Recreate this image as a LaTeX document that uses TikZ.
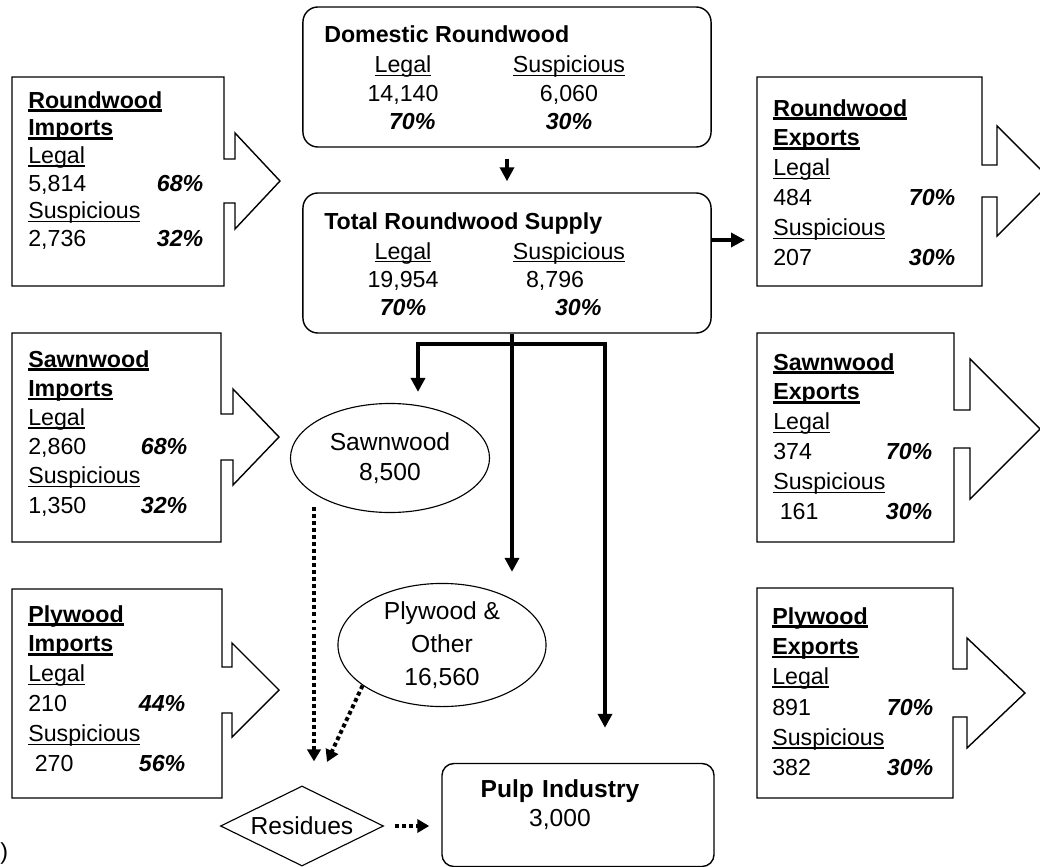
\documentclass[tikz,border=0pt]{standalone}
\usepackage{fontspec}
\setmainfont{Liberation Sans}
\usetikzlibrary{positioning, arrows.meta, shapes.geometric}

\newcommand{\fsz}[1]{\fontsize{16.5pt}{#1}\selectfont}
\newcommand{\fszl}[1]{\fontsize{17.5pt}{#1}\selectfont}
\newcommand{\pct}[1]{\textbf{\textit{#1\%}}}
% underline close to the baseline, as a word processor does
\newcommand{\uln}[1]{\leavevmode\setbox0\hbox{#1}\rlap{\rule[-0.15em]{\wd0}{0.075em}}\box0}
\newcommand{\ulb}[1]{\leavevmode\setbox0\hbox{\bfseries #1}\rlap{\rule[-0.17em]{\wd0}{0.11em}}\box0}
% box with an arrow on its right side:
% left, top, right, bottom, arrow y, stem half, head half, stem x, tip x
\newcommand{\callout}[9]{%
  \draw[outl] (#3,#2) -- (#1,#2) -- (#1,#4) -- (#3,#4) -- (#3,{#5+#6})
    -- (#8,{#5+#6}) -- (#8,{#5+#7}) -- (#9,#5) -- (#8,{#5-#7})
    -- (#8,{#5-#6}) -- (#3,{#5-#6}) -- cycle;}

\begin{document}
\begin{tikzpicture}[x=0.025cm, y=-0.025cm,
    outl/.style={line width=1pt},
    side/.style={inner sep=0pt, anchor=base west, align=left},
    rbox/.style={draw, line width=1pt, rounded corners=0.375cm,
                 minimum width=10.2cm, minimum height=3.5cm},
    col/.style={inner sep=0pt, anchor=base, align=center,
                text width=3.5cm, font=\fsz{20.2pt}},
    oval/.style={draw, ellipse, line width=0.8pt, inner sep=0pt, align=center},
    thk/.style={line width=3pt, -{Triangle[width=0.35cm, length=0.35cm]}},
    dots/.style={line width=2.8pt, dash pattern=on 2.8pt off 2.2pt,
                 -{Triangle[width=0.33cm, length=0.3cm]}}
  ]
    \useasboundingbox (0,0) rectangle (1040,867);

    % import boxes
    \callout{12}{77}{224}{286}{181}{22}{48}{235}{280}
    \callout{12}{333}{221}{542}{437}{23}{48}{233}{279}
    \callout{12}{589}{222}{798}{690}{23}{47}{232}{279}
    \node[side, text width=4.375cm, font=\fsz{19.7pt}] (rwimp) at (28,108)
      {\ulb{Roundwood}\\\ulb{Imports}\\\uln{Legal}\\
       5,814\hfill\pct{68}\\\uln{Suspicious}\\2,736\hfill\pct{32}};
    \node[side, text width=3.975cm, font=\fsz{20.8pt}] (swimp) at (28,367)
      {\ulb{Sawnwood}\\\ulb{Imports}\\\uln{Legal}\\
       2,860\hfill\pct{68}\\\uln{Suspicious}\\1,350\hfill\pct{32}};
    \node[side, text width=3.925cm, font=\fsz{21.3pt}] (pwimp) at (28,622)
      {\ulb{Plywood}\\\ulb{Imports}\\\uln{Legal}\\
       210\hfill\pct{44}\\\uln{Suspicious}\\\hspace*{.28em}270\hfill\pct{56}};

    % export boxes
    \callout{757}{77}{982}{286}{181}{16}{55}{997}{1052}
    \callout{757}{333}{954}{542}{429}{19}{70}{970}{1040}
    \callout{757}{588}{953}{798}{693}{24}{55}{967}{1025}
    \node[side, text width=4.55cm, font=\fsz{21.3pt}] (rwexpt) at (773,116)
      {\ulb{Roundwood}\\\ulb{Exports}\\\uln{Legal}\\
       484\hfill\pct{70}\\\uln{Suspicious}\\207\hfill\pct{30}};
    \node[side, text width=3.975cm, font=\fsz{21.3pt}] (swexpt) at (773,370)
      {\ulb{Sawnwood}\\\ulb{Exports}\\\uln{Legal}\\
       374\hfill\pct{70}\\\uln{Suspicious}\\\hspace*{.28em}161\hfill\pct{30}};
    \node[side, text width=4.025cm, font=\fsz{21.6pt}] (pwexpt) at (772,624)
      {\ulb{Plywood}\\\ulb{Exports}\\\uln{Legal}\\
       891\hfill\pct{70}\\\uln{Suspicious}\\382\hfill\pct{30}};
    \coordinate (rwexp) at (757,240);

    % roundwood supply
    \node[rbox] (dom) at (507,77) {};
    \node[side, font=\fsz{20pt}] (domhd) at (324,43) {\textbf{Domestic Roundwood}};
    \node[col] (domleg) at (403,73) {\uln{Legal}\\14,140\\\hspace*{.8em}\pct{70}};
    \node[col] (domsus) at (569,73) {\uln{Suspicious}\\6,060\\\pct{30}};
    \node[rbox] (total) at (507,263) {};
    \node[side, font=\fsz{20pt}] (tothd) at (324,229) {\textbf{Total Roundwood Supply}};
    \node[col] (totleg) at (403,259) {\uln{Legal}\\19,954\\\pct{70}};
    \node[col] (totsus) at (569,259) {\uln{Suspicious}\\\hspace*{-1.2em}8,796\\\hspace*{.8em}\pct{30}};

    % products
    \node[oval, minimum width=4.975cm, minimum height=2.725cm, font=\fszl{21.3pt}]
      (saw) at (390,458) {Sawnwood\\8,500};
    \node[oval, minimum width=5.2cm, minimum height=2.875cm, font=\fszl{23.5pt}]
      (ply) at (442,645) {Plywood \&\\Other\\16,560};
    \node[draw, diamond, aspect=2, line width=0.8pt, inner sep=0pt,
          minimum width=4.075cm, minimum height=2cm, font=\fszl{20pt}]
      (res) at (302,826) {Residues};
    \node[draw, line width=1pt, rounded corners=0.3cm, minimum width=6.8cm,
          minimum height=2.575cm] (pulp) at (578,815) {};
    \node[col, text width=5.5cm, font=\fszl{21.3pt}] (pulptxt) at (560,797)
      {\textbf{Pulp Industry}\\3,000};
    \node[side, font=\fsz{20pt}] (paren) at (0,859) {)};

    % flows
    \coordinate (split) at (512,344);
    \coordinate (lb) at (418,344);
    \coordinate (rb) at (605,344);
    \draw[thk, shorten <=0.275cm, shorten >=0.275cm] (dom) -- (total);
    \draw[thk, shorten >=0.3cm] (total.east |- rwexp) -- (rwexp);
    \draw[thk, shorten >=0.275cm] (total.south -| split) -- (ply.north -| split);
    \draw[thk, shorten >=0.275cm] (split) -| (saw.north -| lb);
    \draw[thk, shorten >=0.875cm] (split) -| (pulp.north -| rb);
    % residues
    \coordinate (sawout) at (314,507);
    \coordinate (resin) at (327,762);
    \draw[dots, shorten >=0.6cm] (sawout) -- (sawout |- res.north);
    \draw[dots] (ply.207) -- (resin);
    \draw[dots, shorten <=0.275cm, shorten >=0.3cm] (res.east) -- (res.east -| pulp.west);
\end{tikzpicture}
\end{document}
